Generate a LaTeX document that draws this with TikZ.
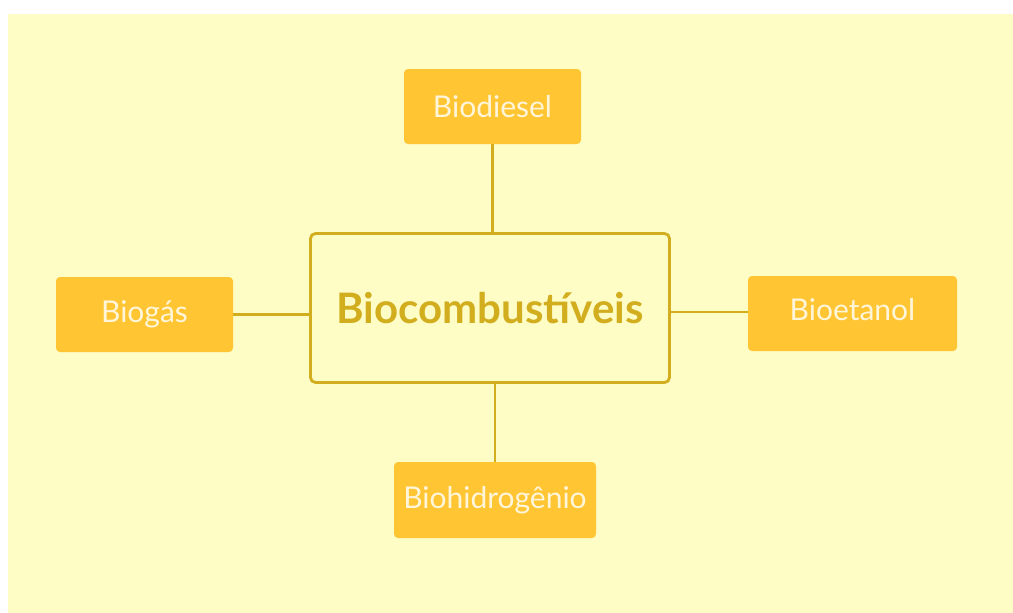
\documentclass[tikz,border=0pt]{standalone}
\usepackage{fontspec}
\setmainfont{Lato}
\usepackage{tikz}
\usetikzlibrary{calc}

\definecolor{paper}{HTML}{FFFDC6}
\definecolor{gold}{HTML}{FFC533}
\definecolor{olive}{HTML}{D2AE1F}
\definecolor{cream}{HTML}{FFF6DA}

\begin{document}
\begin{tikzpicture}[x=1pt,y=-1pt,
  leaf/.style={rectangle, rounded corners=4pt, fill=gold, inner sep=0pt,
    minimum height=75pt, text=cream, font=\fontsize{30}{34}\selectfont},
  hub/.style={rectangle, rounded corners=5pt, draw=olive, line width=2.8pt,
    fill=paper, inner sep=0pt, minimum width=359pt, minimum height=149pt,
    text=olive, font=\fontsize{42}{46}\selectfont\bfseries},
  link/.style={draw=olive, line width=2.4pt}]

% Background
\useasboundingbox (0,0) rectangle (1013,613);
\fill[white] (0,0) rectangle (1013,613);
\fill[paper] (8,14) rectangle (1013,613);

% First, define nodes
\node[hub] (B) at (490,308) {Biocombustíveis};
\node[leaf, minimum width=177pt] (D) at (492.5,106.5) {Biodiesel};
\node[leaf, minimum width=177pt] (G) at (144.5,314.5) {Biogás};
\node[leaf, minimum width=209pt] (E) at (852.5,313.5) {\raisebox{8pt}{Bioetanol}};
\node[leaf, minimum width=202pt, minimum height=76pt] (H) at (495,500) {Biohidrogênio};

% Then the connectors
\draw[link] (D.south) -- (D.south |- B.north);
\draw[link] (G.east) -- (G.east -| B.west);
\draw[link] (E.west |- 0,312) -- (B.east |- 0,312);
\draw[link] (H.north) -- (H.north |- B.south);
\end{tikzpicture}
\end{document}
